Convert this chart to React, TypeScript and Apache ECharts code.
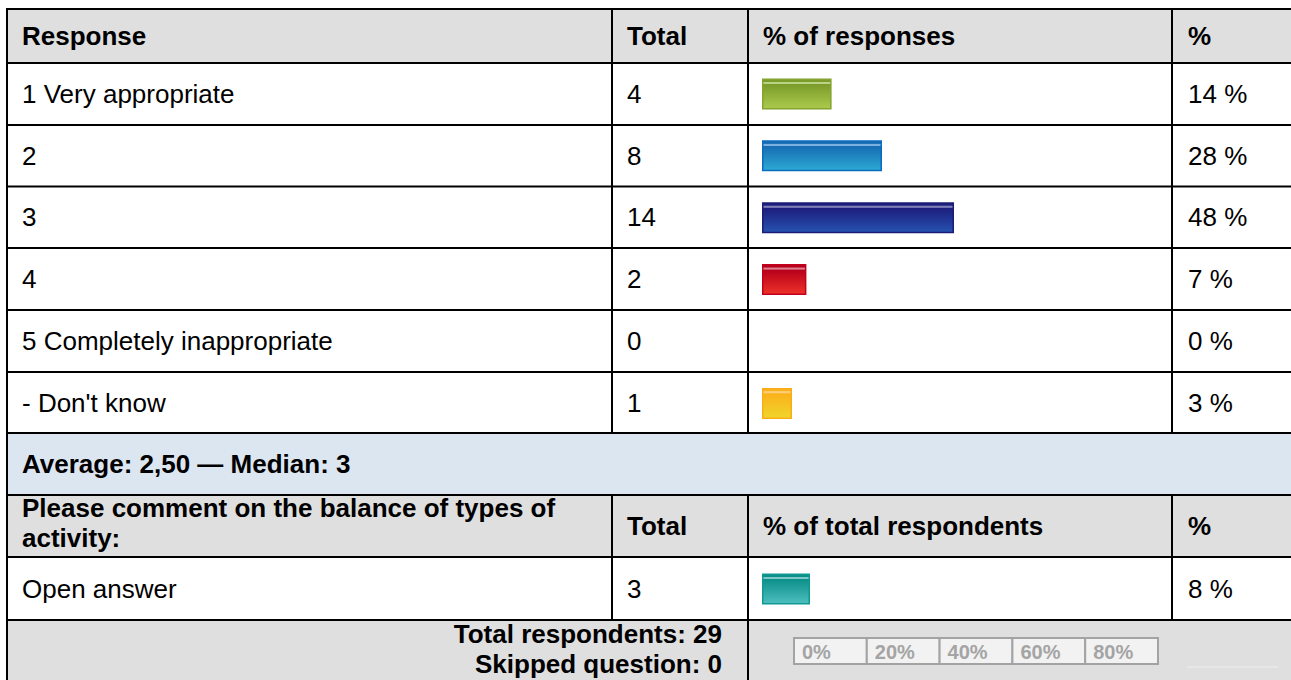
import React, { useEffect, useRef } from "react";
import * as echarts from "echarts";

// ---------- data ----------
const headers = ["Response", "Total", "% of responses", "%"];
const responseLabels = ["1 Very appropriate", "2", "3", "4", "5 Completely inappropriate", "- Don't know"];
const responseTotals = [4, 8, 14, 2, 0, 1];
const responsePct = [14, 28, 48, 7, 0, 3];
const summaryText = "Average: 2,50 — Median: 3";
const questionLines = ["Please comment on the balance of types of", "activity:"];
const questionHeaders = ["Total", "% of total respondents", "%"];
const openLabels = ["Open answer"];
const openTotals = [3];
const openPct = [8];
const totalRespondents = 29;
const skippedQuestion = 0;
const scaleTicks = ["0%", "20%", "40%", "60%", "80%"];

// ---------- styles ----------
type BarStyle = { top: string; bottom: string; border: string; hl: string };
const responseBarStyles: BarStyle[] = [
  { top: "#7b9b2b", bottom: "#abca4c", border: "#84a42f", hl: "#bcd387" },
  { top: "#176cb3", bottom: "#2caad3", border: "#0b6bc0", hl: "#7cb0de" },
  { top: "#1d1d7c", bottom: "#2553b0", border: "#1c1c76", hl: "#8080bb" },
  { top: "#b6001b", bottom: "#ef3229", border: "#c2001e", hl: "#dc8090" },
  { top: "#999999", bottom: "#cccccc", border: "#999999", hl: "#dddddd" },
  { top: "#fbb11b", bottom: "#efd62b", border: "#f9ad19", hl: "#fccf7c" },
];
const openBarStyles: BarStyle[] = [{ top: "#0d908a", bottom: "#4dbebf", border: "#0e9993", hl: "#7ec9c5" }];

const STUB = 5.333; // fixed cap width of every drawn bar, in axis units
const FONT = '"Liberation Sans", Arial, sans-serif';
const SIZE = 26;
const colX = [22, 627, 763, 1188];
const hLines = [9, 63, 125, 186.5, 248, 310, 372, 433, 495, 557, 620];

function barItem(v: number, s: BarStyle) {
  if (!(v > 0)) return "-";
  return {
    value: v + STUB,
    itemStyle: {
      color: new echarts.graphic.LinearGradient(0, 0, 0, 1, [
        { offset: 0, color: s.top },
        { offset: 0.08, color: s.top },
        { offset: 0.1, color: s.hl },
        { offset: 0.15, color: s.hl },
        { offset: 0.17, color: s.top },
        { offset: 1, color: s.bottom },
      ]),
      borderColor: s.border,
      borderWidth: 1.5,
    },
  };
}

function txt(text: string, x: number, y: number, bold: boolean, align = "left", extra: any = {}) {
  return {
    type: "text",
    z: 20,
    style: {
      text,
      x,
      y,
      font: `${bold ? "bold " : ""}${SIZE}px ${FONT}`,
      fill: "#000",
      textAlign: align,
      textVerticalAlign: "middle",
      ...extra,
    },
  };
}

function line(x1: number, y1: number, x2: number, y2: number) {
  return { type: "line", z: 30, shape: { x1, y1, x2, y2 }, style: { stroke: "#000", lineWidth: 2 } };
}

function rect(x: number, y: number, w: number, h: number, fill: string, z = 1, extra: any = {}) {
  return { type: "rect", z, shape: { x, y, width: w, height: h }, style: { fill, ...extra } };
}

export default function App() {
  const ref = useRef<HTMLDivElement>(null);
  useEffect(() => {
    if (!ref.current) return;
    const chart = echarts.init(ref.current, null, { renderer: "svg" });

    const rowCenters = [94, 155.5, 217, 279, 341, 402.5];
    const graphics: any[] = [];
    // backgrounds
    graphics.push(rect(7, 8, 1284, 55, "#dfdfdf", 0));
    graphics.push(rect(7, 433, 1284, 62, "#dce6f1", 0));
    graphics.push(rect(7, 495, 1284, 62, "#dfdfdf", 0));
    graphics.push(rect(7, 620, 1284, 60, "#dfdfdf", 0));
    // header
    headers.forEach((h, i) => graphics.push(txt(h, colX[i], 36, true)));
    // response rows
    responseLabels.forEach((l, i) => {
      graphics.push(txt(l, colX[0], rowCenters[i], false));
      graphics.push(txt(String(responseTotals[i]), colX[1], rowCenters[i], false));
      graphics.push(txt(`${responsePct[i]} %`, colX[3], rowCenters[i], false));
    });
    // summary
    graphics.push(txt(summaryText, colX[0], 464, true));
    // question header
    graphics.push(txt(questionLines[0], colX[0], 508, true));
    graphics.push(txt(questionLines[1], colX[0], 538, true));
    questionHeaders.forEach((h, i) => graphics.push(txt(h, colX[i + 1], 526, true)));
    // open answer
    openLabels.forEach((l, i) => {
      graphics.push(txt(l, colX[0], 588.5, false));
      graphics.push(txt(String(openTotals[i]), colX[1], 588.5, false));
      graphics.push(txt(`${openPct[i]} %`, colX[3], 588.5, false));
    });
    // totals
    graphics.push(txt(`Total respondents: ${totalRespondents}`, 722, 634, true, "right"));
    graphics.push(txt(`Skipped question: ${skippedQuestion}`, 722, 664, true, "right"));
    // scale box
    const cellW = 72.8;
    scaleTicks.forEach((t, i) => {
      const x = 794 + i * cellW;
      graphics.push(rect(x, 638, cellW, 26, "#f2f2f2", 5, { stroke: "#a3a3a3", lineWidth: 2 }));
      graphics.push({
        type: "text",
        z: 21,
        style: {
          text: t,
          x: x + 8,
          y: 651.5,
          font: `bold 20px ${FONT}`,
          fill: "#a4a4a4",
          textAlign: "left",
          textVerticalAlign: "middle",
        },
      });
    });
    graphics.push({ type: "line", z: 5, shape: { x1: 1187, y1: 667, x2: 1278, y2: 667 }, style: { stroke: "#efefef", lineWidth: 1 } });
    // grid lines
    hLines.forEach((y) => graphics.push(line(6, y, 1291, y)));
    graphics.push(line(7, 8, 7, 680));
    [612, 748, 1172].forEach((x) => {
      graphics.push(line(x, 8, x, 433));
      graphics.push(line(x, 495, x, x === 748 ? 680 : 620));
    });

    const cats = [...responseLabels, "summary", "question", ...openLabels];
    const seriesData = [
      ...responsePct.map((v, i) => barItem(v, responseBarStyles[i])),
      "-",
      "-",
      ...openPct.map((v, i) => barItem(v, openBarStyles[i])),
    ];

    chart.setOption({
      animation: false,
      backgroundColor: "#ffffff",
      grid: { left: 762, top: 63, width: 360, height: 557, containLabel: false },
      xAxis: { type: "value", min: 0, max: 100, show: false },
      yAxis: { type: "category", data: cats, inverse: true, show: false },
      series: [
        {
          type: "bar",
          data: seriesData,
          barWidth: 31,
          z: 10,
          silent: true,
        },
      ],
      graphic: { elements: graphics },
    });
    return () => chart.dispose();
  }, []);
  return <div ref={ref} style={{ position: "absolute", left: 0, top: 0, width: 1291, height: 680 }} />;
}
